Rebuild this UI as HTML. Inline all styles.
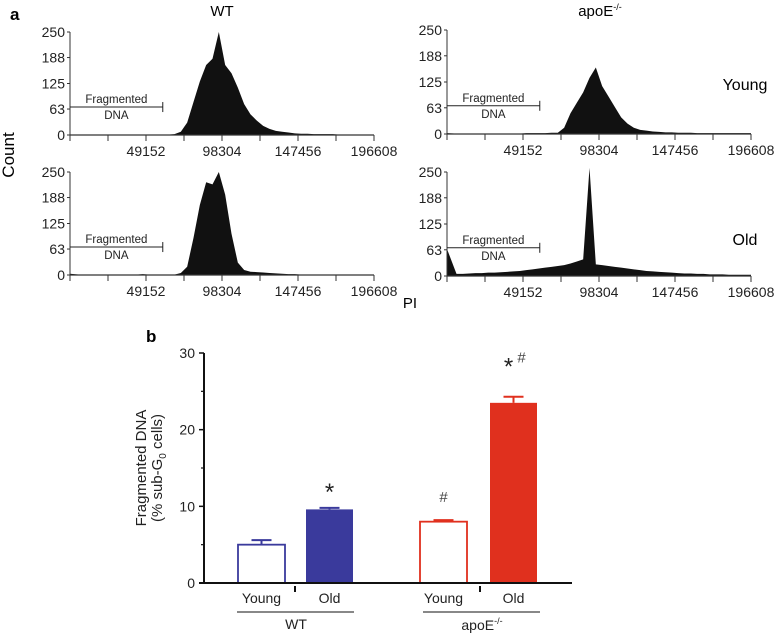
<!DOCTYPE html>
<html><head><meta charset="utf-8"><style>
body{margin:0;background:#fff;}
svg{display:block;font-family:"Liberation Sans",sans-serif;}
</style></head><body>
<svg id="fig" width="784" height="636" viewBox="0 0 784 636">
<text x="10" y="20" font-size="17" font-weight="bold">a</text>
<text x="222" y="16" font-size="15" text-anchor="middle">WT</text>
<text x="600" y="16" font-size="15" text-anchor="middle">apoE<tspan font-size="9" dy="-6">-/-</tspan></text>
<text x="745" y="90" font-size="16" text-anchor="middle">Young</text>
<text x="745" y="245" font-size="16" text-anchor="middle">Old</text>
<text x="14" y="155" font-size="17" text-anchor="middle" transform="rotate(-90 14 155)">Count</text>
<text x="410" y="308" font-size="15" text-anchor="middle">PI</text>
<text x="146" y="342" font-size="17" font-weight="bold">b</text>
<g id="hists"></g>
<g id="bars"></g>
</svg>
<script>
// ---- Histogram data (bins of 4096 PI units, 0..196608) ----
const histTicks = [0,63,125,188,250];
const histXLabels = [49152,98304,147456,196608];
const wtYoung = [1,1,1,1,1,1,1,1,1,1,1,1,1,1,1,1,2,8,30,80,130,170,185,250,170,150,115,75,50,35,22,15,10,8,6,4,3,3,2,2,2,2,1,1,1,1,1,1];
const wtOld = [3,1,1,1,1,1,1,1,1,1,1,2,1,1,1,1,1,5,20,90,170,225,220,250,195,100,30,12,8,7,6,5,4,3,2,2,1,1,1,1,1,1,1,1,1,1,1,1];
const apoYoung = [2,1,1,1,1,1,1,1,1,1,1,1,2,2,2,2,3,3,15,50,75,100,135,160,115,90,65,40,25,15,10,8,6,5,4,4,3,3,3,2,2,2,2,2,2,2,2,2];
const apoOld = [65,5,5,6,7,7,8,8,9,10,11,12,14,16,18,20,22,24,26,30,35,40,260,28,26,24,22,20,18,16,14,12,11,10,9,8,7,6,6,5,5,4,4,4,3,3,3,3];

// ---- Bar chart data ----
const barCats = ["Young","Old","Young","Old"];
const barVals = [5.0,9.6,8.0,23.5];
const barErr = [0.6,0.2,0.2,0.8];
const barTicks = [0,10,20,30];
const barAnno = ["","*","#","*#"];

const NS="http://www.w3.org/2000/svg";
function mk(tag,attrs,parent,txt){const e=document.createElementNS(NS,tag);for(const k in attrs)e.setAttribute(k,attrs[k]);if(txt!==undefined)e.textContent=txt;parent.appendChild(e);return e;}

const hg=document.getElementById('hists');
const panels=[
 {data:wtYoung,x0:70,x1:374,y0:135,y1:32,name:'hist-wt-young'},
 {data:apoYoung,x0:447,x1:751,y0:134,y1:30,name:'hist-apoe-young'},
 {data:wtOld,x0:70,x1:374,y0:275,y1:172,name:'hist-wt-old'},
 {data:apoOld,x0:447,x1:751,y0:276,y1:172,name:'hist-apoe-old'}];
const XMAX=196608;
panels.forEach(p=>{
 const g=mk('g',{},hg);
 
 
 const sx=v=>p.x0+(v/XMAX)*(p.x1-p.x0);
 const sy=v=>p.y0-(v/250)*(p.y0-p.y1);
 const bw=XMAX/p.data.length;
 let d='M'+sx(0)+','+p.y0;
 p.data.forEach((v,i)=>{const yv=sy(Math.min(v,262));d+=' L'+sx(i===0?0:(i+0.5)*bw)+','+yv;});
 d+=' L'+sx(XMAX)+','+sy(p.data[p.data.length-1])+' L'+sx(XMAX)+','+p.y0+' Z';
 const a=mk('path',{d:d,fill:'#111'},g);
 
 
 mk('line',{x1:p.x0,y1:p.y1,x2:p.x0,y2:p.y0,stroke:'#333','stroke-width':1},g);
 mk('line',{x1:p.x0,y1:p.y0,x2:p.x1,y2:p.y0,stroke:'#333','stroke-width':1.2},g);
 histTicks.forEach(t=>{
  mk('line',{x1:p.x0-3,x2:p.x0,y1:sy(t),y2:sy(t),stroke:'#333'},g);
  const tl=mk('text',{x:p.x0-5,y:sy(t)+5,'font-size':14,'text-anchor':'end',fill:'#222'},g,String(t));
  
  
 });
 for(let i=0;i<=8;i++){const v=i*XMAX/8;mk('line',{x1:sx(v),x2:sx(v),y1:p.y0,y2:p.y0+6,stroke:'#333'},g);}
 histXLabels.forEach(v=>{
  const tl=mk('text',{x:sx(v),y:p.y0+21,'font-size':14,'text-anchor':'middle',fill:'#222'},g,String(v));
  
  
 });
 const gx=sx(60000),gy=sy(63)-2;
 mk('line',{x1:p.x0,x2:gx,y1:gy,y2:gy,stroke:'#222','stroke-width':1},g);
 mk('line',{x1:gx,x2:gx,y1:gy-5,y2:gy+5,stroke:'#222'},g);
 const t1=mk('text',{x:(p.x0+gx)/2,y:gy-4,'font-size':11.5,'text-anchor':'middle',fill:'#222'},g,'Fragmented');
 
 
 mk('text',{x:(p.x0+gx)/2,y:gy+12,'font-size':11.5,'text-anchor':'middle',fill:'#222'},g,'DNA');
});

// ---- Bar chart ----
const bg=document.getElementById('bars');
const BX0=204,BX1=572,BY0=583,BY1=353;
const by=v=>BY0-(v/30)*(BY0-BY1);
const barX=[238,306,420,490],BW=47;
const colors=['#3a3a9c','#3a3a9c','#e0301e','#e0301e'];
const filled=[false,true,false,true];
barTicks.forEach(t=>{
 mk('line',{x1:BX0-5,x2:BX0,y1:by(t),y2:by(t),stroke:'#111','stroke-width':1.5},bg);
 const tl=mk('text',{x:BX0-9,y:by(t)+5,'font-size':14,'text-anchor':'end',fill:'#222'},bg,String(t));
 
 
});
[5,15,25].forEach(t=>mk('line',{x1:BX0-3,x2:BX0,y1:by(t),y2:by(t),stroke:'#111','stroke-width':1.2},bg));
barVals.forEach((v,i)=>{
 const x=barX[i],c=colors[i];
 mk('line',{x1:x+BW/2,x2:x+BW/2,y1:by(v),y2:by(v+barErr[i]),stroke:c,'stroke-width':2},bg);
 mk('line',{x1:x+BW/2-10,x2:x+BW/2+10,y1:by(v+barErr[i]),y2:by(v+barErr[i]),stroke:c,'stroke-width':2},bg);
 const r=mk('rect',{x:x,y:by(v),width:BW,height:BY0-by(v),fill:filled[i]?c:'#fff',stroke:c,'stroke-width':filled[i]?0:1.8},bg);
 
 
 const cl=mk('text',{x:x+BW/2,y:BY0+20,'font-size':14,'text-anchor':'middle',fill:'#222'},bg,barCats[i]);
 
 
 const top=by(v+barErr[i]);
 if(barAnno[i]==='*'){mk('text',{x:x+BW/2,y:top-8,'font-size':24,'text-anchor':'middle',fill:'#222'},bg,'*');}
 if(barAnno[i]==='#'){mk('text',{x:x+BW/2,y:top-18,'font-size':15,'text-anchor':'middle',fill:'#444'},bg,'#');}
 if(barAnno[i]==='*#'){mk('text',{x:x+BW/2-5,y:top-22,'font-size':24,'text-anchor':'middle',fill:'#222'},bg,'*');mk('text',{x:x+BW/2+8,y:top-34,'font-size':15,'text-anchor':'middle',fill:'#444'},bg,'#');}
});
mk('line',{x1:BX0,x2:BX0,y1:BY1,y2:BY0,stroke:'#111','stroke-width':2},bg);
mk('line',{x1:BX0-5,x2:BX1,y1:BY0,y2:BY0,stroke:'#111','stroke-width':2},bg);
[295,480].forEach(x=>mk('line',{x1:x,x2:x,y1:BY0+3,y2:BY0+9,stroke:'#111','stroke-width':2},bg));
mk('line',{x1:237,x2:354,y1:612,y2:612,stroke:'#111','stroke-width':1},bg);
mk('line',{x1:423,x2:540,y1:612,y2:612,stroke:'#111','stroke-width':1},bg);
const gw=mk('text',{x:296,y:629,'font-size':14,'text-anchor':'middle',fill:'#222'},bg,'WT');


const ga=mk('text',{x:482,y:630,'font-size':14,'text-anchor':'middle',fill:'#222'},bg,'apoE');


mk('tspan',{'font-size':9,dy:-6},ga,'-/-');
const yt=mk('text',{x:146,y:468,'font-size':15,'text-anchor':'middle',fill:'#222',transform:'rotate(-90 146 468)'},bg,'Fragmented DNA');


const yt2=mk('text',{x:162,y:468,'font-size':15,'text-anchor':'middle',fill:'#222',transform:'rotate(-90 162 468)'},bg,'(% sub-G');
mk('tspan',{'font-size':10,dy:4},yt2,'0');
mk('tspan',{dy:-4},yt2,' cells)');
</script>
</body></html>
